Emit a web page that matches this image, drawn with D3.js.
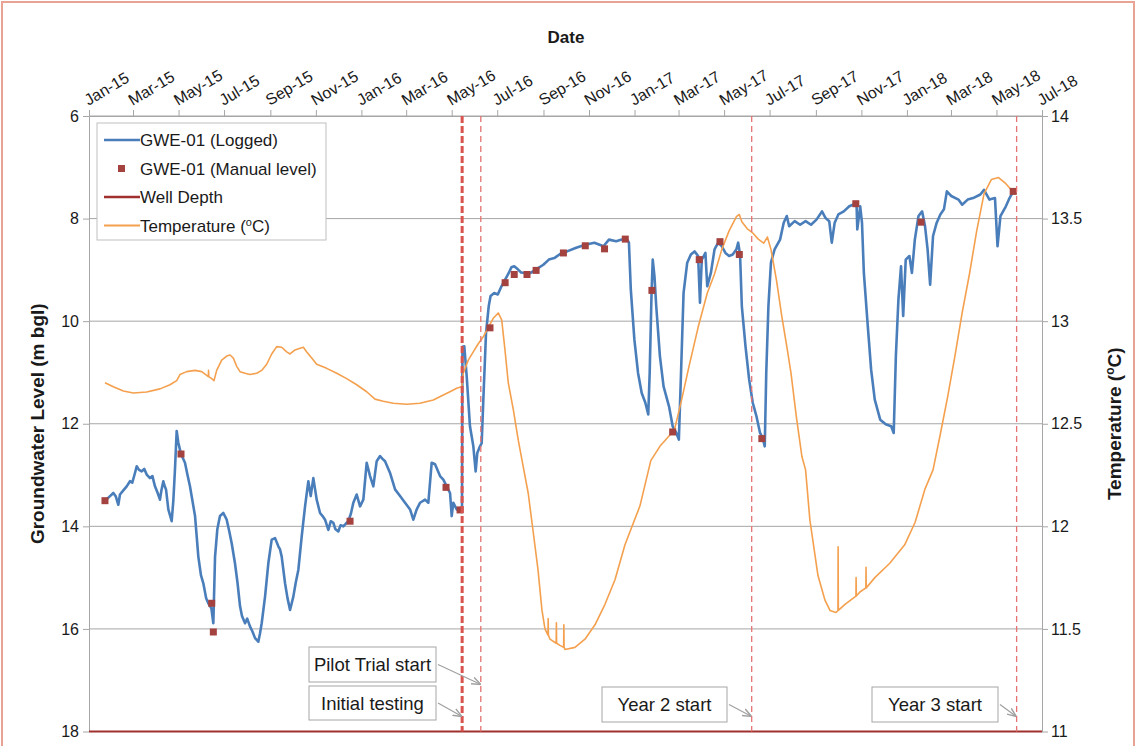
<!DOCTYPE html>
<html>
<head>
<meta charset="utf-8">
<script src="https://cdn.jsdelivr.net/npm/d3@7"></script>
<style>
  body { margin: 0; background: #fff; }
  svg { display: block; font-family: "Liberation Sans", Arial, sans-serif; }
</style>
</head>
<body>
<svg id="chart" width="1136" height="746"></svg>
<script>
// Top axis tick labels (every two months)
const tickLabels = ["Jan-15","Mar-15","May-15","Jul-15","Sep-15","Nov-15","Jan-16","Mar-16","May-16",
  "Jul-16","Sep-16","Nov-16","Jan-17","Mar-17","May-17","Jul-17","Sep-17","Nov-17","Jan-18","Mar-18",
  "May-18","Jul-18"];

const levelTicks = [6, 8, 10, 12, 14, 16, 18];
const tempTicks = [11, 11.5, 12, 12.5, 13, 13.5, 14];

// GWE-01 logger record: [days since 1 Jan 2015, groundwater level m bgl]
const logged = [
  [21.5,13.50],[26,13.44],[32.6,13.35],[36,13.42],[39.3,13.58],[41.5,13.38],[46,13.30],[50.5,13.22],
  [54.9,13.12],[58,13.15],[61.6,12.96],[63.9,12.83],[67,12.90],[70.6,12.93],[74,12.88],[77.3,12.99],
  [81.7,13.06],[85,13.02],[88.4,13.22],[92,13.35],[95.1,13.48],[97,13.30],[99.6,13.12],[101,13.20],
  [103.2,13.28],[106.3,13.67],[110.8,13.90],[113,13.50],[115.2,12.89],[117.5,12.14],[119.7,12.37],
  [121,12.45],[123.3,12.59],[128.6,12.76],[132,13.0],[135.3,13.22],[142.1,13.80],[146.5,14.59],
  [150,14.95],[153.2,15.11],[157,15.40],[159.9,15.50],[164,15.60],[166.6,15.89],[168.9,14.59],
  [172,14.05],[175.5,13.80],[180,13.74],[184.5,13.87],[188,14.10],[191.2,14.33],[195.6,14.72],
  [199,15.10],[202.4,15.56],[205,15.75],[209.1,15.89],[212,15.80],[215.7,15.95],[219,16.05],
  [222.5,16.18],[226.9,16.25],[229,16.10],[231.4,15.89],[235.9,15.37],[240.3,14.72],[244.8,14.26],
  [249.3,14.23],[253.7,14.39],[256,14.45],[258.2,14.59],[262.7,15.11],[266,15.40],[269.4,15.63],
  [273.8,15.37],[277,15.10],[280.5,14.85],[285,14.20],[289.5,13.61],[293.9,13.12],[297.1,13.41],
  [300.6,13.06],[305.1,13.48],[309.6,13.74],[313,13.80],[316.3,13.87],[320.7,14.07],[324,13.90],
  [327.4,13.93],[330,14.05],[334.1,14.10],[337,13.98],[340.8,14.00],[344,13.95],[347.5,13.90],
  [351,13.75],[354.2,13.54],[358.7,13.38],[363.2,13.61],[367.6,13.48],[372.1,12.76],[376.6,13.02],
  [381,13.22],[385.5,12.73],[390,12.63],[393,12.68],[396.7,12.73],[403.4,12.96],[410.1,13.28],
  [416.8,13.41],[423.5,13.54],[430.2,13.67],[434.6,13.87],[439.1,13.67],[443.6,13.54],[450.3,13.48],
  [454.7,13.54],[459.2,12.76],[463.7,12.79],[470.4,13.02],[474.8,13.09],[479.3,13.22],[483.8,13.35],
  [486,13.80],[488.2,13.54],[492.7,13.67],[497.1,13.71],[499.8,13.72],[500.4,10.50],[502.9,10.49],
  [506.1,11.07],[510.5,12.05],[515.0,12.44],[518.1,12.93],[520.3,12.57],[523.9,12.44],[526.2,12.38],
  [528.4,11.53],[532.0,10.23],[535.6,9.71],[538.1,9.51],[543.0,9.45],[547.8,9.48],[552.7,9.32],
  [557.6,9.19],[562.5,9.06],[566,8.95],[569.8,8.93],[574.7,8.99],[579,9.05],[584.4,9.06],
  [591.8,9.06],[599.1,8.99],[608.8,8.90],[616.2,8.80],[623.5,8.77],[633.2,8.67],[640.6,8.64],
  [652.8,8.57],[665.0,8.51],[677.2,8.47],[689.4,8.54],[696.7,8.41],[706.4,8.44],[713.8,8.41],
  [720.1,8.38],[723.5,8.47],[726.0,9.38],[730.8,10.36],[735.7,11.01],[740.6,11.40],[745.5,11.59],
  [749.4,11.82],[751.3,11.01],[753.8,9.45],[755.4,8.80],[757.7,9.12],[760.1,9.71],[765.0,10.68],
  [769.9,11.27],[777.2,11.66],[782.1,12.05],[787.0,12.18],[790.4,12.31],[793.3,11.01],[796.7,9.45],
  [801.6,8.86],[806.5,8.70],[811.4,8.64],[816.2,8.73],[818.7,9.64],[821.1,8.80],[826.0,8.67],
  [828.4,9.32],[833.3,9.06],[838.2,8.60],[843.1,8.47],[848.0,8.54],[852.8,8.67],[857.7,8.73],
  [862.6,8.70],[867.5,8.60],[869.9,8.47],[872.4,8.70],[874.8,9.71],[879.7,10.49],[884.6,11.14],
  [889.4,11.59],[894.3,11.85],[899.2,12.18],[902.6,12.27],[905.5,12.44],[907.5,11.01],[910.4,9.71],
  [913.8,8.86],[918.7,8.60],[926.0,8.41],[930.9,8.08],[935,7.95],[938.2,8.15],[945.6,8.05],
  [952.9,8.12],[960.2,8.05],[967.5,8.12],[974.8,8.02],[982.2,7.86],[987.0,7.99],[991.9,8.05],
  [995.3,8.47],[999.2,8.08],[1004.1,7.92],[1011.4,7.86],[1018.8,7.76],[1023.6,7.73],[1028.5,7.73],
  [1029.5,8.21],[1033.4,7.76],[1035.8,8.08],[1038.3,9.06],[1043.2,10.03],[1048.0,10.94],
  [1052.9,11.53],[1060.2,11.92],[1067.6,12.01],[1074.9,12.05],[1078.3,12.18],[1081.2,10.68],
  [1084.6,9.58],[1088.1,8.93],[1091.0,9.90],[1094.4,8.80],[1099.3,8.73],[1102.7,9.06],[1106.6,8.41],
  [1111.5,7.95],[1116.4,7.86],[1120.3,8.15],[1123.7,8.60],[1127.1,9.29],[1131.0,8.34],[1135.9,8.08],
  [1140.8,7.92],[1145.6,7.82],[1149.5,7.47],[1155.4,7.56],[1165.1,7.63],[1170.0,7.73],[1177.4,7.63],
  [1184.7,7.60],[1194.4,7.53],[1199.3,7.44],[1206.6,7.63],[1214.0,7.60],[1217.4,8.54],[1221.3,7.95],
  [1228.6,7.76],[1233.5,7.60],[1238.4,7.47]
];

// GWE-01 manual dips: [days since 1 Jan 2015, m bgl]
const manual = [
  [21.4,13.50],[123.3,12.59],[164.4,15.50],[166.6,16.06],[349.8,13.90],[478.4,13.24],[497.2,13.68],
  [537.3,10.13],[557.6,9.25],[569.8,9.09],[586.9,9.09],[599.1,9.01],[635.7,8.67],[665.0,8.53],
  [690.8,8.59],[718.6,8.40],[754.3,9.40],[782.1,12.16],[817.7,8.80],[845.5,8.45],[871.4,8.70],
  [901.6,12.29],[1027.5,7.71],[1114.9,8.07],[1238.4,7.47]
];

// Groundwater temperature: [days since 1 Jan 2015, degC]
const temperature = [
  [21.4,12.70],[32.6,12.68],[46,12.66],[59.4,12.65],[77.3,12.655],[95.1,12.67],[108.5,12.69],
  [117.5,12.71],[121.9,12.74],[130.9,12.754],[142.1,12.76],[151.0,12.754],[159.9,12.73],
  [160.2,12.76],[160.5,12.73],[164.4,12.72],[167.5,12.71],[171.1,12.76],[177.8,12.81],[184.5,12.83],
  [189,12.835],[193.4,12.82],[197.9,12.78],[202.4,12.754],[209.1,12.746],[215.7,12.74],
  [224.7,12.746],[231.4,12.76],[238.1,12.79],[244.8,12.84],[251.5,12.876],[258.2,12.873],
  [264.9,12.85],[269.4,12.84],[276.1,12.86],[282.7,12.868],[287.2,12.873],[291.8,12.85],
  [298.4,12.82],[305.1,12.79],[318.5,12.77],[331.9,12.746],[345.3,12.72],[358.7,12.69],
  [372.1,12.656],[383.2,12.62],[394.3,12.61],[407.7,12.60],[425.6,12.595],[443.5,12.60],
  [461.3,12.616],[474.8,12.64],[483.7,12.656],[492.7,12.673],[499.4,12.68],[501.5,12.746],
  [508.2,12.81],[514.9,12.85],[521.6,12.89],[528.3,12.924],[535.0,12.97],[541.7,13.014],
  [548.4,13.04],[553.0,13.006],[557.4,12.86],[561.8,12.70],[568.5,12.57],[575.2,12.42],
  [581.9,12.29],[588.6,12.16],[595.3,11.97],[601.6,11.79],[607.0,11.59],[611.0,11.50],
  [615.0,11.47],[615.3,11.55],[615.6,11.47],[617.7,11.45],[626.0,11.43],[626.3,11.53],
  [626.6,11.43],[631.1,11.42],[636.0,11.41],[636.3,11.52],[636.6,11.41],[637.8,11.40],
  [651.2,11.41],[664.6,11.45],[678.0,11.52],[691.4,11.62],[704.8,11.74],[718.2,11.91],
  [738.3,12.10],[752.8,12.32],[765.0,12.39],[777.2,12.44],[784.5,12.47],[794.3,12.62],[804.0,12.78],
  [816.2,12.97],[828.4,13.136],[838.2,13.23],[848.0,13.35],[857.7,13.44],[867.5,13.51],[871.4,13.52],
  [874.8,13.485],[882.1,13.45],[889.4,13.43],[896.8,13.40],[904.1,13.38],[909.0,13.41],[913.8,13.35],
  [921.2,13.20],[928.5,13.02],[935.8,12.86],[940.7,12.746],[948.0,12.53],[955.3,12.34],[960.2,12.275],
  [966,12.03],[976.8,11.76],[986.2,11.64],[992.9,11.59],[1001,11.58],[1003.6,11.59],[1003.8,11.90],
  [1004.1,11.59],[1013,11.62],[1027.7,11.66],[1027.9,11.75],[1028.2,11.66],[1033,11.68],
  [1041,11.70],[1041.2,11.80],[1041.5,11.70],[1053,11.75],[1073,11.82],[1093,11.91],[1107,12.02],
  [1120,12.18],[1131,12.275],[1140.8,12.45],[1150.5,12.63],[1160.3,12.83],[1170.0,13.04],
  [1179.8,13.23],[1189.5,13.44],[1199.3,13.62],[1209.1,13.69],[1218.8,13.70],[1228.6,13.67],
  [1238.4,13.63],[1243.2,13.62]
];

// Base of well, m bgl
const wellDepth = 18;

// Project milestones: [label, days since 1 Jan 2015]
const milestones = [
  ["Initial testing", 500],
  ["Pilot Trial start", 525],
  ["Year 2 start", 888],
  ["Year 3 start", 1243]
];

// ---------------------------------------------------------------------------
const svg = d3.select("#chart");
const W = 1136, H = 746;
const plot = { left: 89, right: 1042, top: 116, bottom: 731.5 };
const epoch = Date.UTC(2015, 0, 1);
const toDate = d => new Date(epoch + d * 864e5);
const parseTick = d3.utcParse("%b-%y");
const tickDates = tickLabels.map(parseTick);

const x = d3.scaleUtc()
  .domain([tickDates[0], tickDates[tickDates.length - 1]])
  .range([plot.left, plot.right]);
const yL = d3.scaleLinear().domain([6, 18]).range([plot.top, plot.bottom]);
const yR = d3.scaleLinear().domain([11, 14]).range([plot.bottom, plot.top]);

const GRID = "#a6a6a6";
const TEXT = "#1a1a1a";

// outer frame
svg.append("rect").attr("x", 2).attr("y", 2).attr("width", W - 4).attr("height", H + 20)
  .attr("fill", "#fff").attr("stroke", "#e9a394").attr("stroke-width", 2);

// horizontal gridlines
svg.append("g").selectAll("line").data(levelTicks).join("line")
  .attr("x1", plot.left).attr("x2", plot.right)
  .attr("y1", d => yL(d)).attr("y2", d => yL(d))
  .attr("stroke", GRID).attr("stroke-width", 1);

// axes
function styleAxis(g) {
  g.selectAll(".domain").attr("stroke", GRID);
  g.selectAll(".tick line").attr("stroke", GRID);
  g.selectAll("text").attr("fill", TEXT).attr("font-family", "Liberation Sans, Arial, sans-serif");
}

const topAxis = svg.append("g").attr("transform", `translate(0,${plot.top})`)
  .call(d3.axisTop(x).tickValues(tickDates).tickSize(6).tickSizeOuter(0)
    .tickFormat((d, i) => tickLabels[i]));
styleAxis(topAxis);
topAxis.selectAll("text")
  .attr("font-size", 16).attr("text-anchor", "start")
  .attr("x", 0).attr("y", 0).attr("dy", 0)
  .attr("transform", "translate(-1,-10) rotate(-31)");

const leftAxis = svg.append("g").attr("transform", `translate(${plot.left},0)`)
  .call(d3.axisLeft(yL).tickValues(levelTicks).tickSize(6).tickPadding(4).tickSizeOuter(0));
styleAxis(leftAxis);
leftAxis.selectAll("text").attr("font-size", 16);

const rightAxis = svg.append("g").attr("transform", `translate(${plot.right},0)`)
  .call(d3.axisRight(yR).tickValues(tempTicks).tickSize(6).tickPadding(3).tickSizeOuter(0)
    .tickFormat(d3.format("")));
styleAxis(rightAxis);
rightAxis.selectAll("text").attr("font-size", 16);

// axis titles
svg.append("text").attr("x", 566).attr("y", 43).attr("text-anchor", "middle")
  .attr("font-size", 17).attr("font-weight", "bold").attr("fill", TEXT).text("Date");

svg.append("text")
  .attr("transform", `translate(44,${(plot.top + plot.bottom) / 2}) rotate(-90)`)
  .attr("text-anchor", "middle").attr("font-size", 19).attr("font-weight", "bold")
  .attr("fill", TEXT).text("Groundwater Level (m bgl)");

const rTitle = svg.append("text")
  .attr("transform", `translate(1121,${(plot.top + plot.bottom) / 2}) rotate(-90)`)
  .attr("text-anchor", "middle").attr("font-size", 19).attr("font-weight", "bold").attr("fill", TEXT);
rTitle.append("tspan").text("Temperature (");
rTitle.append("tspan").attr("dy", -7).attr("font-size", 12).text("o");
rTitle.append("tspan").attr("dy", 7).text("C)");

// series
const BLUE = "#4a7ebb", ORANGE = "#f4a04e", DARKRED = "#a0302d", MARK = "#a3423e";

const levelLine = d3.line().x(d => x(toDate(d[0]))).y(d => yL(d[1]));
const tempLine = d3.line().x(d => x(toDate(d[0]))).y(d => yR(d[1]));

svg.append("path").datum(logged).attr("d", levelLine)
  .attr("fill", "none").attr("stroke", BLUE).attr("stroke-width", 2.6)
  .attr("stroke-linejoin", "round");

svg.append("path").datum(temperature).attr("d", tempLine)
  .attr("fill", "none").attr("stroke", ORANGE).attr("stroke-width", 1.6)
  .attr("stroke-linejoin", "round");

svg.append("g").selectAll("rect").data(manual).join("rect")
  .attr("x", d => x(toDate(d[0])) - 3.5).attr("y", d => yL(d[1]) - 3.5)
  .attr("width", 7).attr("height", 7).attr("fill", MARK);

// well depth
svg.append("line")
  .attr("x1", plot.left).attr("x2", plot.right)
  .attr("y1", yL(wellDepth)).attr("y2", yL(wellDepth))
  .attr("stroke", DARKRED).attr("stroke-width", 2);

// milestone lines
svg.append("g").selectAll("line").data(milestones).join("line")
  .attr("x1", d => x(toDate(d[1]))).attr("x2", d => x(toDate(d[1])))
  .attr("y1", plot.top).attr("y2", plot.bottom)
  .attr("stroke", (d, i) => i === 0 ? "#d9534f" : "#e57373")
  .attr("stroke-width", (d, i) => i === 0 ? 3 : 1.3)
  .attr("stroke-dasharray", (d, i) => i === 0 ? "7,3" : "6,4");

// milestone callouts
const defs = svg.append("defs");
defs.append("marker").attr("id", "arrow").attr("viewBox", "0 0 10 10")
  .attr("refX", 9).attr("refY", 5).attr("markerWidth", 9).attr("markerHeight", 9)
  .attr("orient", "auto-start-reverse").attr("markerUnits", "userSpaceOnUse")
  .append("path").attr("d", "M0,1 L10,5 L0,9").attr("fill", "none")
  .attr("stroke", "#a0a0a0").attr("stroke-width", 1.6);

const calloutBoxes = [
  { x0: 309, y0: 686, w: 127, h: 34, tip: 716 },   // Initial testing
  { x0: 309, y0: 647, w: 127, h: 35, tip: 684 },   // Pilot Trial start
  { x0: 602, y0: 687, w: 125, h: 35, tip: 716 },   // Year 2 start
  { x0: 872, y0: 687, w: 126, h: 35, tip: 716 }    // Year 3 start
];

milestones.forEach((m, i) => {
  const b = calloutBoxes[i];
  const g = svg.append("g");
  const lx = x(toDate(m[1]));
  g.append("line")
    .attr("x1", b.x0 + b.w + 2).attr("y1", b.y0 + b.h / 2)
    .attr("x2", lx - 1).attr("y2", b.tip)
    .attr("stroke", "#a0a0a0").attr("stroke-width", 1.2)
    .attr("marker-end", "url(#arrow)");
  g.append("rect").attr("x", b.x0).attr("y", b.y0).attr("width", b.w).attr("height", b.h)
    .attr("fill", "#fff").attr("stroke", "#a6a6a6").attr("stroke-width", 1);
  g.append("text").attr("x", b.x0 + b.w / 2).attr("y", b.y0 + b.h / 2 + 6.5)
    .attr("text-anchor", "middle").attr("font-size", 18.5).attr("fill", TEXT).text(m[0]);
});

// legend
const lg = svg.append("g");
lg.append("rect").attr("x", 97).attr("y", 123).attr("width", 229).attr("height", 117)
  .attr("fill", "#fff").attr("stroke", "#bfbfbf");
const legendRows = [
  { type: "line", color: BLUE, w: 2.6, label: "GWE-01 (Logged)" },
  { type: "mark", color: MARK, label: "GWE-01 (Manual level)" },
  { type: "line", color: DARKRED, w: 2.6, label: "Well Depth" },
  { type: "line", color: ORANGE, w: 1.8, label: "Temperature (" }
];
legendRows.forEach((r, i) => {
  const cy = 140 + i * 28.5;
  if (r.type === "line") {
    lg.append("line").attr("x1", 104).attr("x2", 140).attr("y1", cy).attr("y2", cy)
      .attr("stroke", r.color).attr("stroke-width", r.w);
  } else {
    lg.append("rect").attr("x", 118).attr("y", cy - 3.5).attr("width", 7).attr("height", 7)
      .attr("fill", r.color);
  }
  const t = lg.append("text").attr("x", 140).attr("y", cy + 6).attr("font-size", 17)
    .attr("fill", TEXT);
  t.append("tspan").text(r.label);
  if (i === 3) {
    t.append("tspan").attr("dy", -6).attr("font-size", 11).text("o");
    t.append("tspan").attr("dy", 6).text("C)");
  }
});
</script>
</body>
</html>
